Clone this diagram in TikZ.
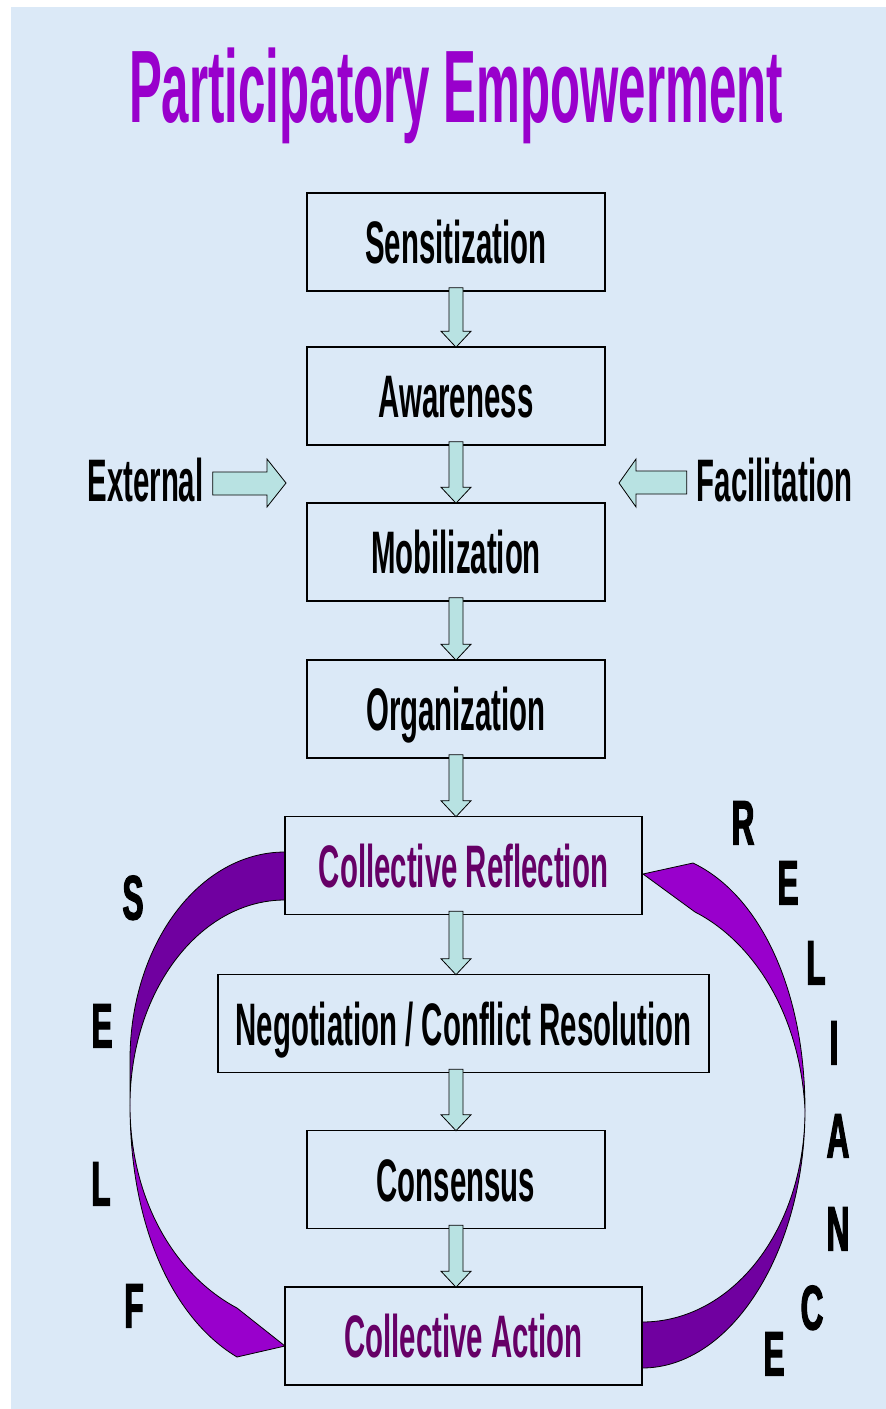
\documentclass[tikz,border=0pt]{standalone}
\usepackage{fontspec}
\newfontfamily\condfont[FakeStretch=0.49]{Liberation Sans}
\newfontfamily\titlefont[FakeStretch=0.478]{Liberation Sans}
\newfontfamily\letfont[FakeStretch=0.5,FakeBold=1.8]{Liberation Sans}
\usetikzlibrary{calc}
\definecolor{bgblue}{RGB}{219,233,247}
\definecolor{titlepurple}{RGB}{153,0,204}
\definecolor{textpurple}{RGB}{102,0,102}
\definecolor{darkband}{RGB}{112,0,160}
\definecolor{lightband}{RGB}{153,0,204}
\definecolor{arrowteal}{RGB}{184,226,226}
\newcommand\bxfont{\condfont\bfseries\fontsize{60}{60}\selectfont}
\newcommand\blockdown[2]{%
  \draw[blockarrow] let \p1=(#1.south), \p2=(#2.north) in
    (449pt,\y1+4pt) -- (463pt,\y1+4pt) -- (463pt,\y2+15pt) -- (471pt,\y2+15pt)
    -- (456pt,\y2-1pt) -- (441pt,\y2+15pt) -- (449pt,\y2+15pt) -- cycle;}
\begin{document}
\begin{tikzpicture}[x=1pt,y=-1pt,
  box/.style={draw=black,line width=1.6pt,minimum height=98pt,inner sep=0pt,
    text height=43pt,text depth=0pt,font=\bxfont},
  sidetext/.style={inner sep=0pt,text height=43pt,text depth=0pt,font=\bxfont},
  lett/.style={inner sep=0pt,text height=45pt,text depth=0pt,
    font=\letfont\bfseries\fontsize{63}{63}\selectfont},
  blockarrow/.style={draw=black,line width=0.8pt,fill=arrowteal,line join=miter},
  band/.style={draw=black,line width=0.8pt,line join=miter}]
\useasboundingbox (0,0) rectangle (886,1409);
\fill[white] (0,0) rectangle (886,1409);
\fill[bgblue] (11,7) rectangle (886,1409);

% title
\node[anchor=base,inner sep=0pt,text=titlepurple,
  font=\titlefont\bfseries\fontsize{103}{103}\selectfont] (title) at (456,122) {Participatory Empowerment};

% curved arrows (drawn first)
\fill[band,fill=darkband] (285,852) .. controls (199,852) and (130,945) .. (130,1060)
  -- (130,1105) .. controls (130,992) and (199,900) .. (285,900) -- cycle;
\fill[band,fill=lightband] (130,1105) .. controls (130,1230) and (175,1320) .. (237,1357)
  -- (285,1346) -- (237,1308) .. controls (175,1275) and (130,1200) .. (130,1105) -- cycle;
\fill[band,fill=darkband] (642,1368) .. controls (732,1368) and (805,1250) .. (805,1110)
  .. controls (805,1230) and (732,1322) .. (642,1322) -- cycle;
\fill[band,fill=lightband] (805,1110) .. controls (805,990) and (760,895) .. (693,863)
  -- (643,874) -- (695,912) .. controls (750,940) and (800,1010) .. (805,1110) -- cycle;

% boxes
\node[box,minimum width=298pt] (sens)  at (456,242)    {Sensitization};
\node[box,minimum width=298pt] (aware) at (456,396)    {Awareness};
\node[box,minimum width=298pt] (mob)   at (456,552)    {Mobilization};
\node[box,minimum width=298pt] (org)   at (456,709)    {Organization};
\node[box,minimum width=357pt,text=textpurple] (refl) at (463.5,865.5) {Collective Reflection};
\node[box,minimum width=491pt] (nego)  at (463.5,1023.5) {Negotiation / Conflict Resolution};
\node[box,minimum width=298pt] (cons)  at (456,1179.5) {Consensus};
\node[box,minimum width=357pt,text=textpurple] (act) at (463.5,1336) {Collective Action};

% down arrows
\blockdown{sens}{aware}
\blockdown{aware}{mob}
\blockdown{mob}{org}
\blockdown{org}{refl}
\blockdown{refl}{nego}
\blockdown{nego}{cons}
\blockdown{cons}{act}

% side texts and arrows
\node[sidetext] (ext) at (145.5,480) {External};
\node[sidetext] (fac) at (774.5,480) {Facilitation};
\coordinate (extTip) at (286,483);
\coordinate (facTip) at (619,483);
\draw[blockarrow] let \p1=(ext.east), \p2=(extTip) in
  (\x1+9pt,\y2+11pt) -- (\x2-19pt,\y2+11pt) -- (\x2-19pt,\y2+24pt) -- (\x2,\y2)
  -- (\x2-19pt,\y2-24pt) -- (\x2-19pt,\y2-12pt) -- (\x1+9pt,\y2-12pt) -- cycle;
\draw[blockarrow] let \p1=(fac.west), \p2=(facTip) in
  (\x1-10pt,\y2+12pt) -- (\x2+17pt,\y2+12pt) -- (\x2+17pt,\y2+24pt) -- (\x2,\y2)
  -- (\x2+17pt,\y2-24pt) -- (\x2+17pt,\y2-11pt) -- (\x1-10pt,\y2-11pt) -- cycle;

% SELF
\node[lett] (s1) at (133,897)  {S};
\node[lett] (s2) at (102,1025) {E};
\node[lett] (s3) at (101,1183) {L};
\node[lett] (s4) at (134,1305) {F};
% RELIANCE
\node[lett] (r1) at (743,822)  {R};
\node[lett] (r2) at (788,882)  {E};
\node[lett] (r3) at (816,962)  {L};
\node[lett] (r4) at (834,1042) {I};
\node[lett] (r5) at (838,1135) {A};
\node[lett] (r6) at (838,1228) {N};
\node[lett] (r7) at (812,1307) {C};
\node[lett] (r8) at (774,1353) {E};
\end{tikzpicture}
\end{document}
